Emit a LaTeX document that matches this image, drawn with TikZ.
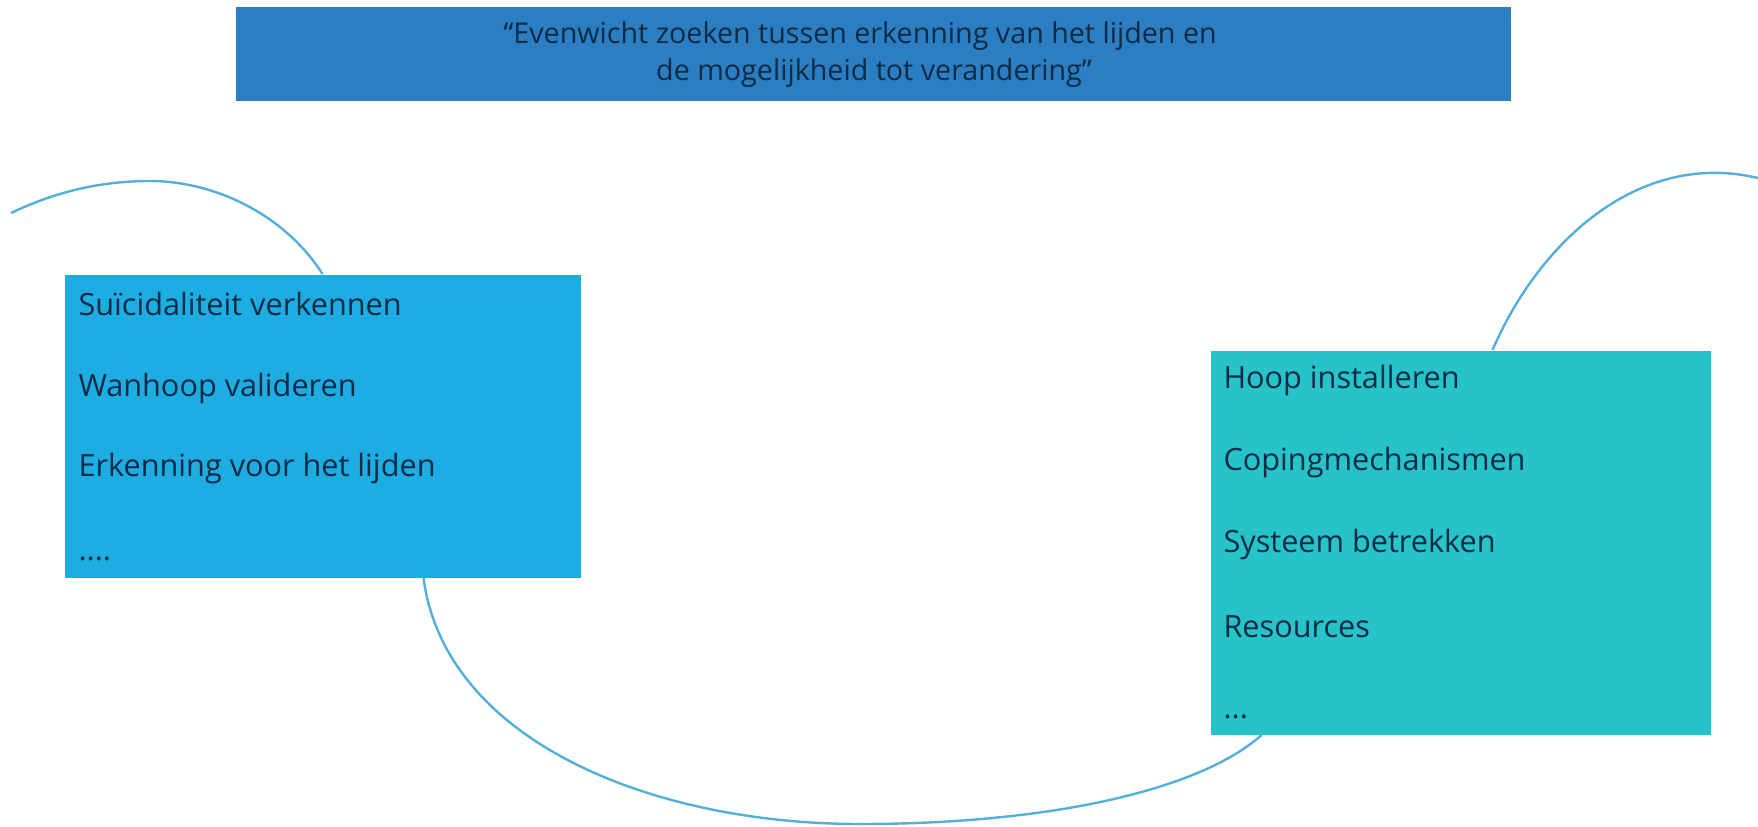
\documentclass[tikz,border=0pt]{standalone}
\usepackage{fontspec}
\setmainfont{Open Sans}

\definecolor{kopblauw}{RGB}{43,126,193}
\definecolor{linksblauw}{RGB}{30,173,227}
\definecolor{rechtsturkoois}{RGB}{38,195,201}
\definecolor{tekstdonker}{RGB}{13,43,69}
\definecolor{lijnblauw}{RGB}{84,174,218}

\tikzset{every picture/.style={line width=0.75pt}}
\tikzset{
  vlak/.style={draw=none, inner sep=0pt, anchor=north west},
  regel/.style={anchor=base west, inner sep=0pt, text=tekstdonker, font=\fontsize{23}{27}\selectfont},
  kopregel/.style={anchor=base, inner sep=0pt, text=tekstdonker, font=\fontsize{21.5}{25}\selectfont},
  golf/.style={draw=lijnblauw, line width=1.8pt}
}

\begin{document}
\begin{tikzpicture}[x=0.75pt,y=0.75pt,yscale=-1,xscale=1]
\useasboundingbox (0,0) rectangle (1758,827);

% Kop
\node [vlak, fill=kopblauw, minimum width=956.25pt, minimum height=70.5pt] (kop) at (235,7) {};
\node [kopregel] (kop1) at (860,44) {“Evenwicht zoeken tussen erkenning van het lijden en};
\node [kopregel] (kop2) at (874,81) {de mogelijkheid tot verandering”};

% Linker vlak
\node [vlak, fill=linksblauw, minimum width=387pt, minimum height=227.25pt] (links) at (64,274) {};
\node [regel] (l1) at (78,315) {Suïcidaliteit verkennen};
\node [regel] (l2) at (78,396) {Wanhoop valideren};
\node [regel] (l3) at (78,476) {Erkenning voor het lijden};
\node [regel] (l4) at (78,560) {....};

% Rechter vlak
\node [vlak, fill=rechtsturkoois, minimum width=375pt, minimum height=288pt] (rechts) at (1210,350) {};
\node [regel] (r1) at (1223,388) {Hoop installeren};
\node [regel] (r2) at (1223,470) {Copingmechanismen};
\node [regel] (r3) at (1223,552) {Systeem betrekken};
\node [regel] (r4) at (1223,637) {Resources};
\node [regel] (r5) at (1223,718) {...};

% Golflijn
\coordinate (begin) at (11,213);
\coordinate (top) at (150,181);
\coordinate (dal) at (860,824);
\coordinate (eind) at (1758,178);
\draw [golf] (begin) .. controls (55,192) and (100,181) .. (top) .. controls (215,181) and (285,215) .. (links.north) ;
\draw [golf] ([xshift=75.75pt]links.south) .. controls (445,740) and (650,824) .. (dal) ;
\draw [golf] (dal) .. controls (1050,824) and (1200,790) .. ([xshift=-149.25pt]rechts.south) ;
\draw [golf] ([xshift=24pt]rechts.north) .. controls (1540,240) and (1640,150) .. (eind) ;

\end{tikzpicture}
\end{document}
